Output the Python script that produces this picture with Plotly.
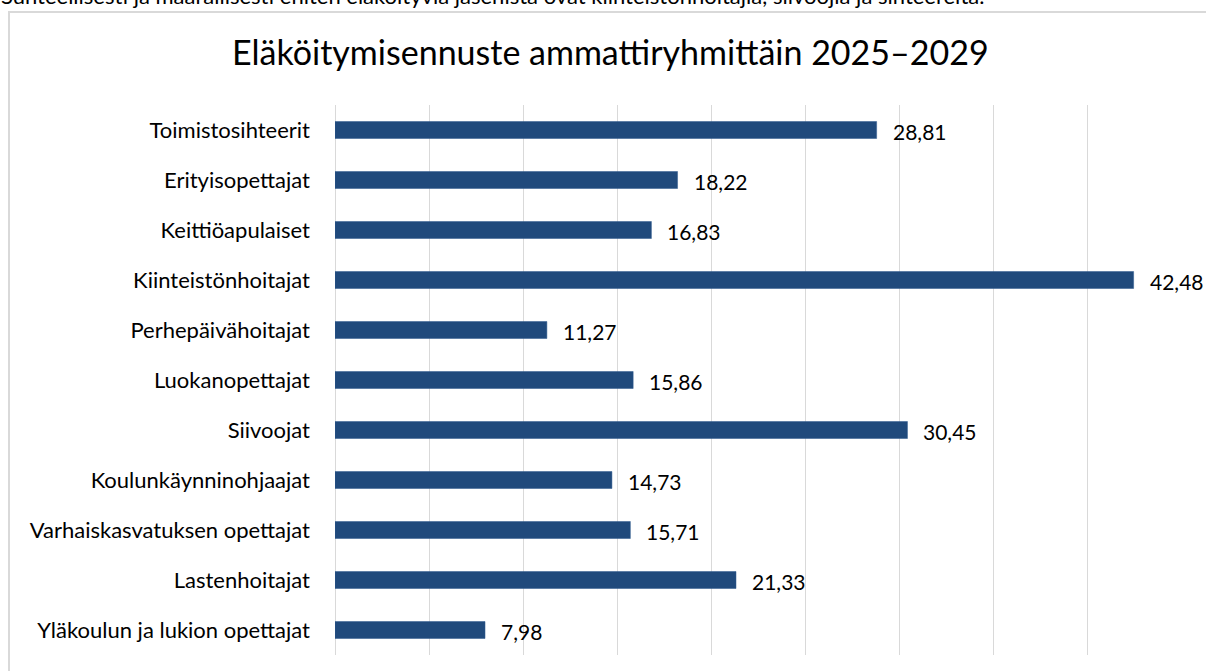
import plotly.graph_objects as go

# data (top to bottom)
ammatit = [
    "Toimistosihteerit",
    "Erityisopettajat",
    "Keittiöapulaiset",
    "Kiinteistönhoitajat",
    "Perhepäivähoitajat",
    "Luokanopettajat",
    "Siivoojat",
    "Koulunkäynninohjaajat",
    "Varhaiskasvatuksen opettajat",
    "Lastenhoitajat",
    "Yläkoulun ja lukion opettajat",
]
osuudet = [28.81, 18.22, 16.83, 42.48, 11.27, 15.86, 30.45, 14.73, 15.71, 21.33, 7.98]

otsikko = "Eläköitymisennuste ammattiryhmittäin 2025–2029"
yla_teksti = ("Suhteellisesti ja määrällisesti eniten eläköityviä jäsenistä ovat "
              "kiinteistönhoitajia, siivoojia ja sihteereitä.")

W, H = 1206, 671
FONT = "Lato"
BAR = "#204a7c"
GRID = "#d9d9d9"


def px_x(p):
    return p / W


def px_y(p):
    return 1 - p / H


fig = go.Figure(go.Bar(
    x=osuudet,
    y=ammatit,
    orientation="h",
    width=0.34,
    marker=dict(color=BAR, line=dict(color="#2f5b8f", width=0.5)),
    hoverinfo="skip",
))

# value labels to the right of bars
for a, v in zip(ammatit, osuudet):
    fig.add_annotation(
        x=v, y=a, xref="x", yref="y",
        text=f"{v:.2f}".replace(".", ","),
        showarrow=False, xanchor="left", xshift=14, yshift=-1,
        font=dict(family=FONT, size=21, color="#000000"),
    )

fig.add_annotation(
    x=px_x(610), y=px_y(52), xref="paper", yref="paper",
    text=otsikko, showarrow=False, xanchor="center", yanchor="middle",
    font=dict(family=FONT, size=34, color="#000000"),
)

# line of document text above the chart, cut by the top of the window
fig.add_annotation(
    x=px_x(986), y=px_y(11), xref="paper", yref="paper",
    text=yla_teksti, showarrow=False, xanchor="right", yanchor="bottom",
    font=dict(family=FONT, size=22, color="#000000"),
)

# chart frame
fig.add_shape(
    type="rect", xref="paper", yref="paper",
    x0=px_x(9), x1=px_x(1230), y0=px_y(700), y1=px_y(12),
    line=dict(color=GRID, width=2), fillcolor="rgba(0,0,0,0)",
)

fig.update_layout(
    width=W, height=H,
    margin=dict(l=0, r=0, t=0, b=0),
    paper_bgcolor="white", plot_bgcolor="white",
    showlegend=False,
    xaxis=dict(
        domain=[px_x(335), px_x(1181)],
        range=[0, 45], dtick=5,
        showgrid=True, gridcolor=GRID, gridwidth=1,
        showticklabels=False, zeroline=True, zerolinecolor=GRID, zerolinewidth=1,
        showline=False, fixedrange=True,
    ),
    yaxis=dict(
        domain=[px_y(655), px_y(105)],
        autorange="reversed",
        showgrid=False, showline=False, zeroline=False,
        ticks="", ticklabelstandoff=24,
        tickfont=dict(family=FONT, size=22, color="#000000"),
        fixedrange=True,
    ),
)

# drop the default 8px page margin so the figure fills the window
fig.write_html(
    "out.html",
    config={"displayModeBar": False},
    post_script="document.body.style.margin='0';document.body.style.overflow='hidden';",
)
